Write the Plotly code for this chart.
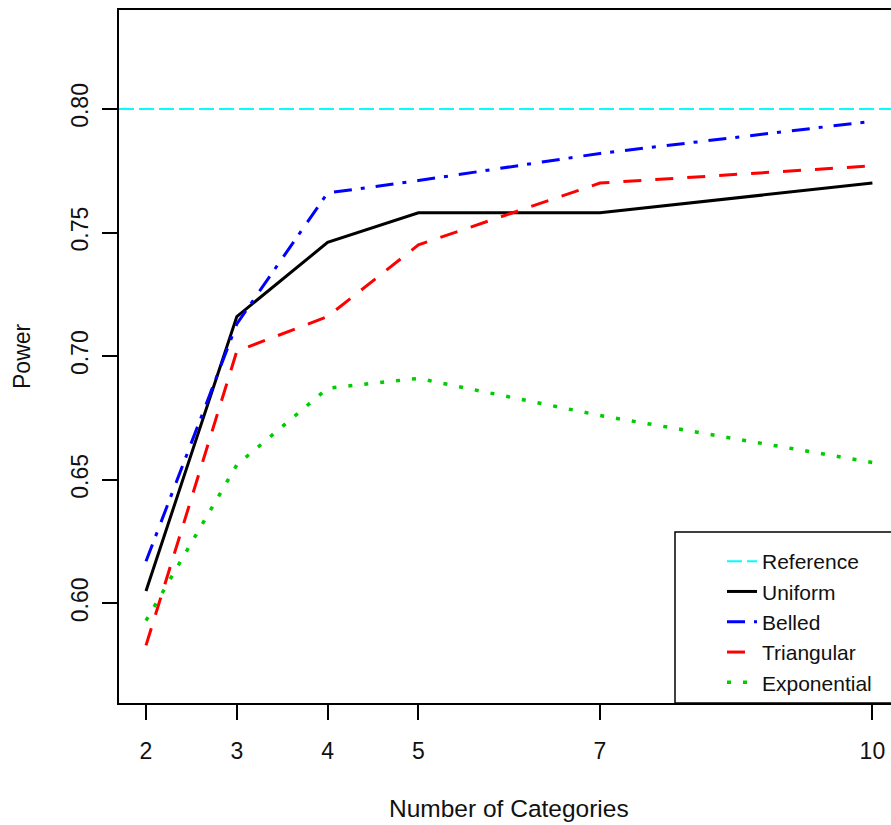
import plotly.graph_objects as go

# ---- data ----
categories = [2, 3, 4, 5, 7, 10]
uniform = [0.605, 0.716, 0.746, 0.758, 0.758, 0.770]
belled = [0.617, 0.713, 0.766, 0.771, 0.782, 0.795]
triangular = [0.583, 0.702, 0.716, 0.745, 0.770, 0.777]
exponential = [0.593, 0.656, 0.687, 0.691, 0.676, 0.657]
reference_power = 0.80
x_ticks = [2, 3, 4, 5, 7, 10]
y_ticks = [0.60, 0.65, 0.70, 0.75, 0.80]
y_tick_labels = ["0.60", "0.65", "0.70", "0.75", "0.80"]

X_RANGE = [1.7026, 10.2047]
Y_RANGE = [0.5597, 0.8400]

FONT = "Liberation Sans, Arial, sans-serif"

fig = go.Figure()

fig.add_trace(go.Scatter(
    x=X_RANGE, y=[reference_power, reference_power], mode="lines", name="Reference",
    line=dict(color="#00FFFF", width=2, dash="15px,5px")))
fig.add_trace(go.Scatter(
    x=categories, y=uniform, mode="lines", name="Uniform",
    line=dict(color="#000000", width=3)))
fig.add_trace(go.Scatter(
    x=categories, y=belled, mode="lines", name="Belled",
    line=dict(color="#0000FF", width=3, dash="18px,9px,4px,11px")))
fig.add_trace(go.Scatter(
    x=categories, y=triangular, mode="lines", name="Triangular",
    line=dict(color="#FF0000", width=3, dash="18px,14px")))
fig.add_trace(go.Scatter(
    x=categories, y=exponential, mode="lines", name="Exponential",
    line=dict(color="#00CD00", width=3.5, dash="4px,12px")))

# legend box (R style, clipped at the right edge)
fig.add_shape(type="rect", xref="paper", yref="paper",
              x0=(675 - 119) / 772, x1=1.1, y0=0, y1=(703 - 532) / 693,
              line=dict(color="black", width=1.5), fillcolor="white", layer="below")

fig.update_layout(
    width=891, height=825,
    margin=dict(l=119, r=0, t=10, b=122, autoexpand=False),
    plot_bgcolor="white", paper_bgcolor="white",
    font=dict(family=FONT, size=23, color="#111111"),
    showlegend=True,
    legend=dict(
        x=(722 - 119) / 772, xanchor="left",
        y=(703 - 541) / 693, yanchor="top",
        bgcolor="rgba(0,0,0,0)", borderwidth=0,
        font=dict(family=FONT, size=21, color="#111111"),
        traceorder="normal",
    ),
    xaxis=dict(
        range=X_RANGE, tickvals=x_ticks, ticktext=[str(v) for v in x_ticks],
        showgrid=False, zeroline=False,
        showline=True, linecolor="black", linewidth=1.5, mirror=True,
        ticks="outside", ticklen=15, tickwidth=1.5, tickcolor="black",
        ticklabelstandoff=12, automargin=False,
        tickfont=dict(family=FONT, size=23, color="#111111"),
    ),
    yaxis=dict(
        range=Y_RANGE, tickvals=y_ticks, ticktext=y_tick_labels,
        showgrid=False, zeroline=False,
        showline=True, linecolor="black", linewidth=1.5, mirror=False,
        ticks="outside", ticklen=15, tickwidth=1.5, tickcolor="black",
        tickangle=-90, ticklabelstandoff=5, automargin=False,
        tickfont=dict(family=FONT, size=23, color="#111111"),
    ),
)

fig.add_annotation(text="Number of Categories", xref="paper", yref="paper",
                   x=(509 - 119) / 772, y=-(808 - 703) / 693, xanchor="center", yanchor="middle",
                   showarrow=False, font=dict(family=FONT, size=24.5, color="#111111"))
fig.add_annotation(text="Power", xref="paper", yref="paper",
                   x=-(119 - 22) / 772, y=(703 - 356) / 693, xanchor="center", yanchor="middle",
                   textangle=-90, showarrow=False, font=dict(family=FONT, size=23, color="#111111"))

fig.write_html("out.html")
